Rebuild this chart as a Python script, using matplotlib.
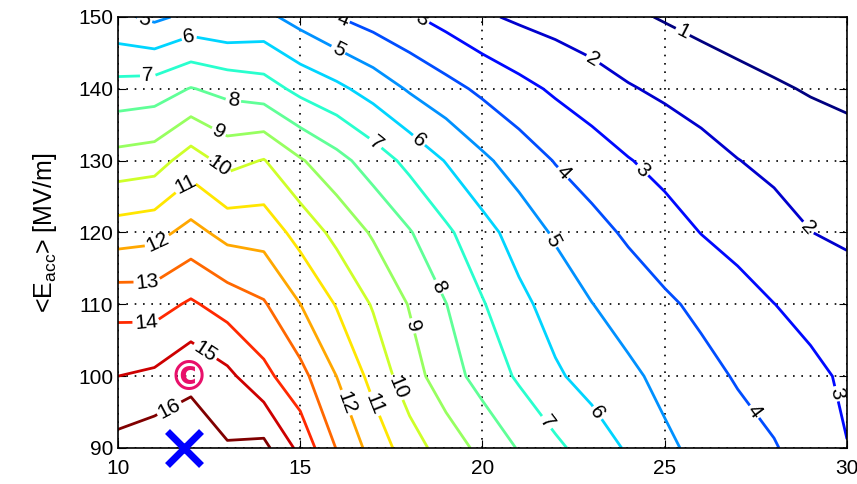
import numpy as np
import matplotlib.pyplot as plt

# grid of the map (x step 1, Eacc step 10 MV/m)
x_vals = np.arange(10, 31)
eacc_vals = np.arange(90, 151, 10)

# values, one row per Eacc
z_90 = [16.35, 16.65, 16.52, 16.09, 16.27, 14.72, 12.95, 11.63, 10.46, 9.54, 8.73,
        7.93, 7.21, 6.54, 5.88, 5.18, 4.75, 4.41, 4.07, 3.55, 3.02]
z_100 = [15.0, 15.19, 15.79, 15.24, 14.28, 13.32, 11.99, 10.68, 9.43, 8.45, 7.62,
         6.86, 6.14, 5.64, 5.19, 4.75, 4.32, 3.91, 3.56, 3.21, 2.86]
z_110 = [13.66, 13.61, 14.14, 13.58, 13.1, 12.01, 10.93, 9.91, 8.94, 8.02, 7.07,
         6.26, 5.6, 5.02, 4.59, 4.17, 3.78, 3.39, 3.01, 2.72, 2.45]
z_120 = [11.5, 11.67, 12.33, 11.67, 11.6, 10.63, 9.72, 8.88, 8.07, 7.18, 6.36,
         5.58, 4.87, 4.34, 3.85, 3.41, 2.98, 2.66, 2.33, 2.01, 1.85]
z_130 = [9.38, 9.54, 10.5, 9.68, 10.05, 9.1, 8.33, 7.53, 6.72, 5.95, 5.19,
         4.55, 3.95, 3.5, 3.05, 2.69, 2.34, 2.02, 1.8, 1.7, 1.62]
z_140 = [7.37, 7.5, 8.05, 7.7, 7.45, 6.72, 6.23, 5.6, 4.89, 4.33, 3.8,
         3.3, 2.85, 2.46, 2.08, 1.82, 1.59, 1.36, 1.14, 0.91, 0.68]
z_150 = [5.2, 4.8, 5.25, 5.05, 5.25, 4.63, 4.02, 3.57, 3.13, 2.65, 2.15,
         1.84, 1.61, 1.39, 1.16, 0.93, 0.70, 0.48, 0.25, 0.02, -0.25]

levels = np.arange(1, 17)

# special points
cross_point = [11.8, 90]
c_point = [11.95, 99.6]

plt.rcParams['font.family'] = ['Liberation Sans', 'DejaVu Sans']
plt.rcParams['mathtext.default'] = 'regular'

Z = np.array([z_90, z_100, z_110, z_120, z_130, z_140, z_150])

fig = plt.figure(figsize=(8.57, 4.84), dpi=100)
ax = fig.add_axes([0.1377, 0.0744, 0.8506, 0.8905])

cs = ax.contour(x_vals, eacc_vals, Z, levels=levels, cmap='jet', vmin=1, vmax=16,
                linewidths=2)

# label spots, as in the original figure
label_spots = [(10.69, 148.9), (11.98, 146.8), (10.82, 141.2), (13.16, 138.2),
               (12.72, 133.6), (12.74, 129.0), (11.98, 125.9), (11.1, 118.5),
               (10.8, 112.8), (10.77, 107.3), (12.39, 103.4), (11.43, 95.3),
               (16.09, 148.9), (16.0, 145.0), (18.18, 148.2), (22.87, 142.9),
               (25.42, 147.2), (16.97, 131.9), (18.1, 131.9), (22.07, 127.6),
               (24.18, 127.6), (28.85, 120.3), (21.71, 118.3), (18.61, 112.0),
               (17.93, 106.8), (17.6, 98.3), (16.97, 96.0), (16.09, 96.0),
               (21.66, 93.2), (22.95, 94.2), (27.34, 94.6), (29.59, 97.4)]
ax.clabel(cs, fontsize=15, inline=True, inline_spacing=2, fmt='%d',
          colors='k', manual=label_spots)

ax.plot(cross_point[0], cross_point[1], marker='x', color='blue', markersize=24,
        markeredgewidth=5, clip_on=False, zorder=6)
ax.text(c_point[0], c_point[1], '\u00a9', color='#e8106a', fontsize=29,
        fontweight='bold', ha='center', va='center', family='DejaVu Sans', zorder=6)

ax.set_xlim(10, 30)
ax.set_ylim(90, 150)
ax.set_xticks(np.arange(10, 31, 5))
ax.set_yticks(np.arange(90, 151, 10))
ax.grid(True, linestyle=(0, (1, 4)), color='k', linewidth=1.2)
ax.tick_params(direction='in', top=True, right=True, length=6, labelsize=15)
ax.tick_params(axis='x', pad=8)
for s in ax.spines.values():
    s.set_linewidth(1.2)
ax.set_ylabel('<E$_{acc}$> [MV/m]', fontsize=18, labelpad=14)

fig.savefig('out.png', dpi=100)
